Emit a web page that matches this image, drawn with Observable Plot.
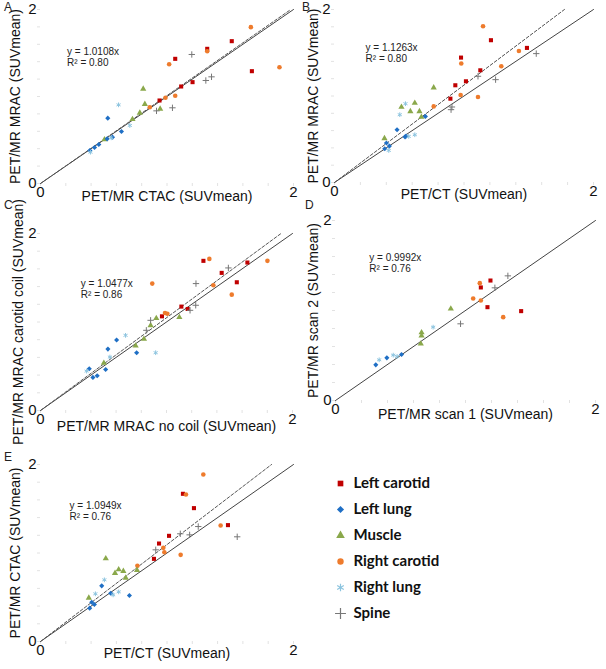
<!DOCTYPE html>
<html><head><meta charset="utf-8">
<script src="https://cdn.jsdelivr.net/npm/d3@7"></script>
<script src="https://cdn.jsdelivr.net/npm/@observablehq/plot@0.6"></script>
<style>
body{margin:0;background:#fff;}
#root{position:relative;width:606px;height:669px;font-family:"Liberation Sans",Arial,sans-serif;overflow:hidden;}
.panel{position:absolute;}
.letter{position:absolute;font-size:12px;color:#222;line-height:12px;}
</style></head><body><div id="root"></div>
<script>
// ---- data ----
const series = ["Left carotid","Left lung","Muscle","Right carotid","Right lung","Spine"];
const seriesColors = ["#c00000","#1f6fc5","#8aa84b","#ee7b2c","#8cc4df","#777777"];
const seriesSymbols = ["square","diamond2","triangle","circle","asterisk","plus"];
const strokeOnly = ["Right lung","Spine"];

const panelLetters = ["A","B","C","D","E"];
const xLabels = ["PET/MR CTAC (SUVmean)","PET/CT (SUVmean)","PET/MR MRAC no coil (SUVmean)","PET/MR scan 1 (SUVmean)","PET/CT (SUVmean)"];
const yLabels = ["PET/MR MRAC (SUVmean)","PET/MR MRAC (SUVmean)","PET/MR MRAC carotid coil (SUVmean)","PET/MR scan 2 (SUVmean)","PET/MR CTAC (SUVmean)"];
const slopes = [1.0108, 1.1263, 1.0477, 0.9992, 1.0949];
const r2 = ["0.80","0.80","0.86","0.76","0.76"];
const tickValues = [0, 2];

// points: [series, x, y]
const pointsA = [
  ["Left carotid",1.512,1.636],["Left carotid",1.318,1.548],["Left carotid",1.065,1.433],["Left carotid",1.671,1.291],["Left carotid",1.202,1.165],["Left carotid",1.112,1.115],["Left carotid",0.941,0.954],
  ["Right carotid",1.663,1.797],["Right carotid",1.318,1.52],["Right carotid",1.017,1.371],["Right carotid",1.889,1.337],["Right carotid",1.065,1.008],["Right carotid",0.988,0.985],["Right carotid",0.864,0.877],
  ["Muscle",0.812,1.088],["Muscle",0.825,0.912],["Muscle",0.946,0.858],["Muscle",0.785,0.812],["Muscle",0.727,0.739],["Muscle",0.506,0.506],
  ["Left lung",0.532,0.751],["Left lung",0.64,0.598],["Left lung",0.569,0.533],["Left lung",0.527,0.513],["Left lung",0.461,0.448],["Left lung",0.427,0.414],["Left lung",0.39,0.379],
  ["Right lung",0.617,0.904],["Right lung",0.706,0.667],["Right lung",0.559,0.525],["Right lung",0.395,0.36],
  ["Spine",1.196,1.483],["Spine",1.307,1.184],["Spine",1.352,1.226],["Spine",1.043,0.87],["Spine",0.917,0.835]
];
const pointsB = [
  ["Left carotid",1.208,1.645],["Left carotid",1.486,1.556],["Left carotid",0.977,1.444],["Left carotid",1.126,1.297],["Left carotid",1.015,1.170],["Left carotid",0.933,1.124],["Left carotid",0.895,0.969],
  ["Right carotid",1.147,1.807],["Right carotid",0.979,1.375],["Right carotid",1.424,1.521],["Right carotid",1.288,1.344],["Right carotid",0.974,1.012],["Right carotid",1.108,0.988],["Right carotid",0.766,0.880],
  ["Muscle",0.766,1.097],["Muscle",0.517,0.873],["Muscle",0.620,0.919],["Muscle",0.586,0.822],["Muscle",0.656,0.822],["Muscle",0.671,0.757],["Muscle",0.386,0.510],
  ["Left lung",0.483,0.610],["Left lung",0.553,0.537],["Left lung",0.545,0.527],["Left lung",0.702,0.764],["Left lung",0.401,0.456],["Left lung",0.424,0.421],["Left lung",0.388,0.390],
  ["Right lung",0.548,0.911],["Right lung",0.504,0.784],["Right lung",0.620,0.552],["Right lung",0.573,0.533],["Right lung",0.419,0.371],
  ["Spine",1.558,1.490],["Spine",1.244,1.189],["Spine",1.108,1.228],["Spine",0.907,0.873],["Spine",0.900,0.842]
];
const pointsC = [
  ["Left carotid",1.293,1.691],["Left carotid",1.642,1.672],["Left carotid",1.438,1.555],["Left carotid",1.558,1.449],["Left carotid",1.118,1.174],["Left carotid",1.168,1.147],["Left carotid",0.964,1.064],
  ["Right carotid",1.340,1.713],["Right carotid",1.801,1.691],["Right carotid",0.887,1.434],["Right carotid",1.372,1.415],["Right carotid",1.518,1.309],["Right carotid",0.988,1.102],["Right carotid",1.007,1.094],
  ["Muscle",0.919,1.042],["Muscle",0.874,0.962],["Muscle",1.102,1.053],["Muscle",0.821,0.808],["Muscle",0.755,0.732],["Muscle",0.503,0.536],
  ["Left lung",0.604,0.796],["Left lung",0.535,0.694],["Left lung",0.763,0.653],["Left lung",0.387,0.472],["Left lung",0.517,0.464],["Left lung",0.450,0.392],["Left lung",0.416,0.374],
  ["Right lung",0.675,0.849],["Right lung",0.914,0.653],["Right lung",0.551,0.604],["Right lung",0.366,0.445],
  ["Spine",1.491,1.611],["Spine",1.234,1.434],["Spine",1.232,1.189],["Spine",1.187,1.132],["Spine",0.874,1.019],["Spine",0.840,0.906]
];
const pointsD = [
  ["Left carotid",1.192,1.333],["Left carotid",1.118,1.256],["Left carotid",1.169,1.037],["Left carotid",1.428,0.993],
  ["Right carotid",1.110,1.304],["Right carotid",1.059,1.133],["Right carotid",1.118,1.111],["Right carotid",1.290,0.926],
  ["Muscle",0.887,1.019],["Muscle",0.662,0.756],["Muscle",0.662,0.719],["Muscle",0.656,0.630],
  ["Left lung",0.310,0.396],["Left lung",0.395,0.474],["Left lung",0.508,0.511],
  ["Right lung",0.751,0.815],["Right lung",0.336,0.452],["Right lung",0.444,0.504],["Right lung",0.474,0.489],
  ["Spine",1.326,1.385],["Spine",1.226,1.252],["Spine",0.962,0.852]
];
const pointsE = [
  ["Left carotid",1.126,1.669],["Left carotid",1.213,1.507],["Left carotid",1.482,1.315],["Left carotid",1.016,1.194],["Left carotid",0.937,1.107],["Left carotid",0.897,0.934],
  ["Right carotid",1.287,1.887],["Right carotid",1.150,1.661],["Right carotid",1.424,1.311],["Right carotid",0.971,1.058],["Right carotid",0.979,1.009],["Right carotid",1.108,0.979],["Right carotid",0.766,0.855],
  ["Muscle",0.516,0.938],["Muscle",0.618,0.814],["Muscle",0.589,0.772],["Muscle",0.655,0.795],["Muscle",0.674,0.719],["Muscle",0.763,0.806],["Muscle",0.382,0.493],
  ["Left lung",0.484,0.629],["Left lung",0.555,0.546],["Left lung",0.703,0.520],["Left lung",0.405,0.444],["Left lung",0.426,0.418],["Left lung",0.389,0.377],
  ["Right lung",0.505,0.697],["Right lung",0.434,0.539],["Right lung",0.618,0.561],["Right lung",0.574,0.527],
  ["Spine",1.555,1.183],["Spine",1.247,1.299],["Spine",1.179,1.205],["Spine",0.911,1.036],["Spine",1.105,1.217]
];
const allPoints = [pointsA, pointsB, pointsC, pointsD, pointsE];

// ---- layout ----
const layout = [
  {left:0,   top:0,   w:300, h:215, mL:40, mR:7,  mT:9,  mB:32, xOff:17, yOff:-25, eq:[0.21,1.57], letter:[4,1]},
  {left:300, top:0,   w:306, h:215, mL:34, mR:13, mT:9,  mB:33, xOff:16, yOff:-21, eq:[0.24,1.61], letter:[302,1]},
  {left:0,   top:215, w:300, h:235, mL:40, mR:8,  mT:18, mB:40, xOff:20, yOff:-22, eq:[0.32,1.48], letter:[4,199]},
  {left:300, top:215, w:306, h:235, mL:35, mR:11, mT:5,  mB:50, xOff:18, yOff:-22, eq:[0.26,1.64], letter:[305,199]},
  {left:0,   top:450, w:300, h:219, mL:40, mR:7,  mT:14, mB:28, xOff:16, yOff:-25, eq:[0.23,1.58], letter:[4,451]}
];

const root = document.getElementById("root");
const colorScale = {domain: series, range: seriesColors};
const symbolScale = {domain: series, range: seriesSymbols};
const fmt = d => String(d);

allPoints.forEach((pts, i) => {
  const L = layout[i];
  const rows = pts.map(([s, x, y]) => ({s, x, y}));
  const filled = rows.filter(d => !strokeOnly.includes(d.s));
  const stroked = rows.filter(d => strokeOnly.includes(d.s));
  const k = slopes[i];
  const xEnd = Math.min(2, 2 / k);
  const regLine = [{x: 0, y: 0}, {x: xEnd, y: k * xEnd}];
  const identity = [{x: 0, y: 0}, {x: 2, y: 2}];
  const minor = d3.range(0, 2.001, 0.2);
  const plot = Plot.plot({
    width: L.w, height: L.h,
    marginLeft: L.mL, marginRight: L.mR, marginTop: L.mT, marginBottom: L.mB,
    x: {domain: [0, 2]}, y: {domain: [0, 2]},
    color: colorScale, symbol: symbolScale,
    style: {fontFamily: "Liberation Sans, Arial, sans-serif", background: "transparent", overflow: "visible"},
    marks: [
      Plot.axisX(minor, {tickSize: 3, stroke: "#e2e2e2", text: null, label: null}),
      Plot.axisY(minor, {tickSize: 3, stroke: "#e2e2e2", text: null, label: null}),
      Plot.axisX(tickValues, {tickSize: 0, tickPadding: 3, fontSize: 15, fill: "#111", label: null, tickFormat: fmt}),
      Plot.axisY(tickValues, {tickSize: 0, tickPadding: 4, fontSize: 15, fill: "#111", label: null, tickFormat: fmt}),
      Plot.text([xLabels[i]], {frameAnchor: "bottom", dy: L.xOff, fontSize: 14, fill: "#111", textAnchor: "middle"}),
      Plot.text([yLabels[i]], {frameAnchor: "left", dx: L.yOff, rotate: -90, fontSize: 14, fill: "#111", textAnchor: "middle"}),
      Plot.line(identity, {x: "x", y: "y", stroke: "#444", strokeWidth: 1}),
      ...(i === 3 ? [] : [Plot.line(regLine, {x: "x", y: "y", stroke: "#555", strokeWidth: 1, strokeDasharray: "3,2"})]),
      Plot.text([`y = ${k.toFixed(4)}x\nR² = ${r2[i]}`], {x: () => L.eq[0], y: () => L.eq[1], textAnchor: "start", lineAnchor: "top", fontSize: 10, lineHeight: 1.1, fill: "#222"}),
      Plot.dot(filled, {x: "x", y: "y", symbol: "s", fill: "s", r: 2.3}),
      Plot.dot(stroked, {x: "x", y: "y", symbol: "s", stroke: "s", r: 2.2, strokeWidth: 1})
    ]
  });
  plot.classList.add("panel");
  plot.style.left = L.left + "px";
  plot.style.top = L.top + "px";
  root.appendChild(plot);
  const letter = document.createElement("div");
  letter.className = "letter";
  letter.textContent = panelLetters[i];
  letter.style.left = L.letter[0] + "px";
  letter.style.top = L.letter[1] + "px";
  root.appendChild(letter);
});

// ---- legend ----
const legendRows = series.map(s => ({s}));
const legend = Plot.plot({
  width: 220, height: 170, margin: 0,
  x: {domain: [0, 1], range: [20, 210], axis: null},
  y: {type: "point", domain: series, range: [14, 148], padding: 0, axis: null},
  color: colorScale, symbol: symbolScale,
  style: {background: "transparent", overflow: "visible"},
  marks: [
    Plot.dot(legendRows.filter(d => !strokeOnly.includes(d.s)), {x: () => 0, y: "s", symbol: "s", fill: "s", r: 3.2}),
    Plot.dot(legendRows.filter(d => strokeOnly.includes(d.s)), {x: () => 0, y: "s", symbol: "s", stroke: "s", r: 3.6, strokeWidth: 1.2}),
    Plot.text(legendRows, {x: () => 0, y: "s", text: "s", dx: 13, textAnchor: "start", fontSize: 15, fontWeight: "bold", fontFamily: "Lato, sans-serif", fill: "#111"})
  ]
});
legend.classList.add("panel");
legend.style.left = "320px";
legend.style.top = "467px";
root.appendChild(legend);
</script>
</body></html>
